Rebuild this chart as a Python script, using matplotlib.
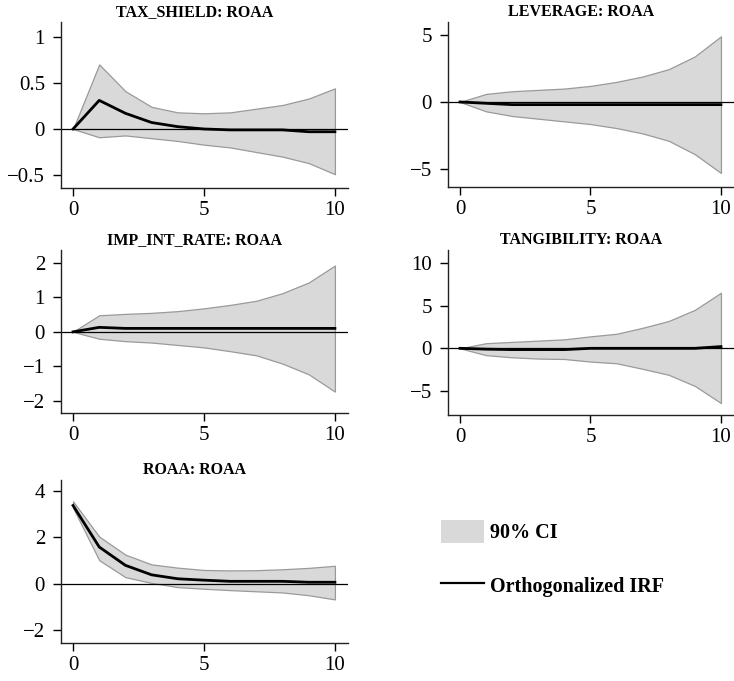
import matplotlib
matplotlib.use("Agg")
import matplotlib.pyplot as plt
from matplotlib.patches import Patch
from matplotlib.lines import Line2D

plt.rcParams['font.family'] = ['Liberation Serif', 'DejaVu Serif']

steps = list(range(11))

# impulse: response pairs
titles = ["TAX_SHIELD: ROAA", "LEVERAGE: ROAA", "IMP_INT_RATE: ROAA",
          "TANGIBILITY: ROAA", "ROAA: ROAA"]

irf_tax = [0, 0.31, 0.17, 0.07, 0.025, 0.0, -0.01, -0.01, -0.01, -0.03, -0.03]
lo_tax = [0, -0.09, -0.07, -0.10, -0.13, -0.17, -0.20, -0.25, -0.30, -0.37, -0.49]
hi_tax = [0, 0.70, 0.41, 0.24, 0.18, 0.17, 0.18, 0.22, 0.26, 0.33, 0.44]

irf_lev = [0, -0.1, -0.2, -0.2, -0.2, -0.2, -0.2, -0.2, -0.2, -0.2, -0.2]
lo_lev = [0, -0.7, -1.05, -1.25, -1.45, -1.65, -1.95, -2.35, -2.9, -3.9, -5.3]
hi_lev = [0, 0.6, 0.8, 0.9, 1.0, 1.2, 1.5, 1.9, 2.45, 3.4, 4.9]

irf_int = [0, 0.13, 0.1, 0.1, 0.1, 0.1, 0.1, 0.1, 0.1, 0.1, 0.1]
lo_int = [0, -0.2, -0.27, -0.31, -0.38, -0.45, -0.56, -0.68, -0.92, -1.23, -1.73]
hi_int = [0, 0.48, 0.52, 0.55, 0.6, 0.68, 0.78, 0.9, 1.12, 1.43, 1.92]

irf_tan = [0, -0.1, -0.15, -0.15, -0.15, 0.0, 0.0, 0.0, 0.0, 0.0, 0.2]
lo_tan = [0, -0.8, -1.05, -1.2, -1.25, -1.55, -1.75, -2.4, -3.1, -4.4, -6.4]
hi_tan = [0, 0.6, 0.75, 0.9, 1.05, 1.4, 1.7, 2.4, 3.2, 4.5, 6.5]

irf_roa = [3.37, 1.58, 0.79, 0.38, 0.21, 0.15, 0.1, 0.1, 0.1, 0.06, 0.06]
lo_roa = [3.27, 1.01, 0.28, 0.03, -0.15, -0.22, -0.28, -0.33, -0.38, -0.5, -0.68]
hi_roa = [3.55, 2.03, 1.25, 0.83, 0.69, 0.59, 0.57, 0.58, 0.62, 0.68, 0.77]

series = [(irf_tax, lo_tax, hi_tax), (irf_lev, lo_lev, hi_lev),
          (irf_int, lo_int, hi_int), (irf_tan, lo_tan, hi_tan),
          (irf_roa, lo_roa, hi_roa)]

yticks = [[-0.5, 0, 0.5, 1], [-5, 0, 5], [-2, -1, 0, 1, 2],
          [-5, 0, 5, 10], [-2, 0, 2, 4]]
ytlabels = [["\u22120.5", "0", "0.5", "1"], ["\u22125", "0", "5"],
            ["\u22122", "\u22121", "0", "1", "2"], ["\u22125", "0", "5", "10"],
            ["\u22122", "0", "2", "4"]]
ylims = [(-0.64, 1.16), (-6.35, 5.97), (-2.35, 2.37), (-7.8, 11.5), (-2.56, 4.47)]

# panel boxes in pixels: left, right, top, bottom
W, H = 734, 681
boxes = [(61, 348, 22, 188), (448, 734, 22, 187), (61, 348, 250, 413),
         (448, 734, 250, 415), (61, 348, 480, 643)]

fig = plt.figure(figsize=(W / 100, H / 100), dpi=100)

fill_c = "#d9d9d9"
edge_c = "#9a9a9a"

for i in range(5):
    l, r, t, b = boxes[i]
    ax = fig.add_axes([l / W, 1 - b / H, (r - l) / W, (b - t) / H])
    irf, lo, hi = series[i]
    ax.fill_between(steps, lo, hi, facecolor=fill_c, edgecolor=edge_c, linewidth=0.9, zorder=1)
    ax.axhline(0, color="black", linewidth=0.9, zorder=2)
    ax.plot(steps, irf, color="black", linewidth=2.0, zorder=3)
    ax.set_xlim(-0.46, 10.5)
    ax.set_ylim(*ylims[i])
    ax.set_xticks([0, 5, 10])
    ax.set_xticklabels(["0", "5", "10"])
    ax.set_yticks(yticks[i])
    ax.set_yticklabels(ytlabels[i])
    for s in ["top", "right"]:
        ax.spines[s].set_visible(False)
    for s in ["left", "bottom"]:
        ax.spines[s].set_linewidth(1.0)
        ax.spines[s].set_color("#222222")
    ax.tick_params(axis="y", length=5.5, width=1.0, pad=6, labelsize=15)
    ax.tick_params(axis="x", length=5.5, width=1.0, pad=4, labelsize=15)
    ax.set_title(titles[i], fontsize=11.5, fontweight="bold", x=0.465, pad=4)

# legend
leg_handles = [Patch(facecolor=fill_c, edgecolor="none"),
               Line2D([0], [0], color="black", linewidth=1.6)]
fig.legend(leg_handles, ["90% CI", "Orthogonalized IRF"],
           loc="upper left", bbox_to_anchor=(423 / W, 1 - 502 / H),
           frameon=False, prop={"size": 14.5, "weight": "bold"},
           handlelength=2.15, handleheight=1.4, labelspacing=1.5, handletextpad=0.3)

plt.savefig("out.png", dpi=100)
